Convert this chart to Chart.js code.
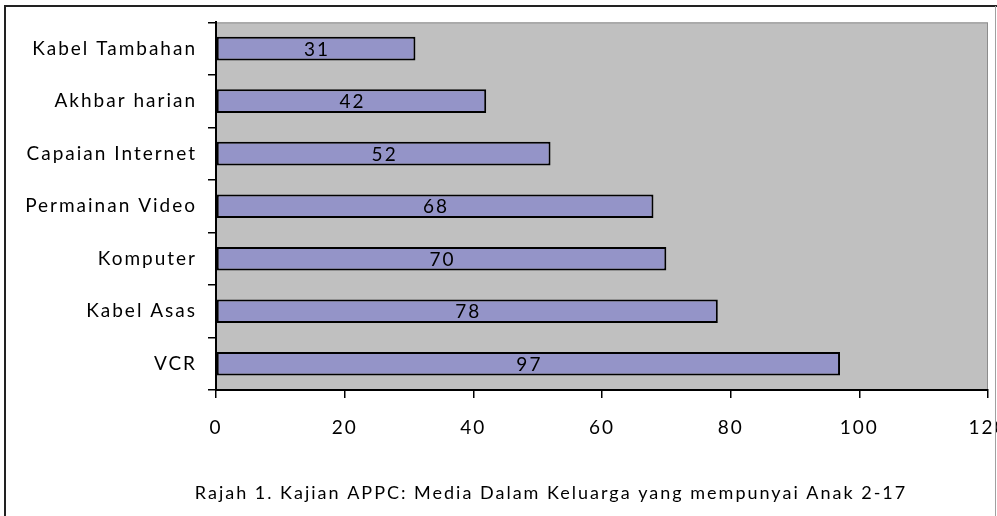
<!DOCTYPE html>
<html>
<head>
<meta charset="utf-8">
<script src="https://cdn.jsdelivr.net/npm/chart.js@4.4.1/dist/chart.umd.min.js"></script>
<style>
  html, body { margin: 0; padding: 0; background: #fff; overflow: hidden; }
  #wrap { width: 997px; height: 516px; }
</style>
</head>
<body>
<div id="wrap"><canvas id="graph" width="997" height="516"></canvas></div>
<script>
// data
var categories = ['Kabel Tambahan', 'Akhbar harian', 'Capaian Internet', 'Permainan Video', 'Komputer', 'Kabel Asas', 'VCR'];
var values = [31, 42, 52, 68, 70, 78, 97];
var xMin = 0, xMax = 120, xStep = 20;
var caption = 'Rajah 1. Kajian APPC: Media Dalam Keluarga yang mempunyai Anak 2-17';

var FONT = 'Lato';
var SPACING = '2px';

// wide text like the original picture
var spacing = {
    id: 'spacing',
    beforeLayout: function (chart) { chart.ctx.letterSpacing = SPACING; },
    beforeDraw: function (chart) { chart.ctx.letterSpacing = SPACING; }
};

var plotBack = {
    id: 'plotBack',
    beforeDraw: function (chart) {
        var a = chart.chartArea, c = chart.ctx;
        c.save();
        c.fillStyle = '#c0c0c0';
        c.fillRect(a.left, a.top, a.width, a.height);
        c.strokeStyle = '#8c8c8c';
        c.lineWidth = 1;
        c.strokeRect(a.left + 0.5, a.top + 0.5, a.width - 1, a.height);
        c.restore();
    },
    afterDraw: function (chart) {
        var c = chart.ctx;
        c.save();
        // outer frame
        c.strokeStyle = '#222';
        c.lineWidth = 2;
        c.beginPath();
        c.moveTo(5, chart.height);
        c.lineTo(5, 6);
        c.lineTo(chart.width, 6);
        c.stroke();
        c.strokeStyle = '#a0a0a0';
        c.lineWidth = 1;
        c.beginPath();
        c.moveTo(995.5, 6);
        c.lineTo(995.5, chart.height);
        c.stroke();
        // caption
        c.letterSpacing = SPACING;
        c.fillStyle = '#000';
        c.font = '18px ' + FONT;
        c.textAlign = 'center';
        c.textBaseline = 'middle';
        c.fillText(caption, 551, chart.height - 23);
        c.restore();
    }
};

var valueLabels = {
    id: 'valueLabels',
    afterDatasetsDraw: function (chart) {
        var c = chart.ctx;
        var meta = chart.getDatasetMeta(0);
        c.save();
        c.letterSpacing = SPACING;
        c.fillStyle = '#000';
        c.font = '19px ' + FONT;
        c.textAlign = 'center';
        c.textBaseline = 'middle';
        meta.data.forEach(function (bar, i) {
            c.fillText(String(values[i]), (bar.x + bar.base) / 2 + 1, bar.y + 1);
        });
        c.restore();
    }
};

var ctx = document.getElementById('graph');
var graph = new Chart(ctx, {
    type: 'bar',
    data: {
        labels: categories,
        datasets: [{
            data: values,
            backgroundColor: '#9494c8',
            borderColor: '#000',
            borderWidth: 2,
            borderSkipped: false,
            categoryPercentage: 1,
            barPercentage: 0.45
        }]
    },
    options: {
        indexAxis: 'y',
        responsive: false,
        animation: false,
        layout: { padding: { left: 6, top: 17, right: 9, bottom: 66 } },
        plugins: {
            legend: { display: false },
            tooltip: { enabled: false }
        },
        scales: {
            x: {
                min: xMin,
                max: xMax,
                ticks: { stepSize: xStep, color: '#000', padding: 18, font: { family: FONT, size: 19 } },
                grid: { drawOnChartArea: false, tickLength: 8, color: '#000', lineWidth: 1.5 },
                border: { color: '#000', width: 2 },
                afterFit: function (s) { s.height = 60; s.paddingRight = 0; s.paddingLeft = 0; }
            },
            y: {
                ticks: { color: '#000', padding: 11, font: { family: FONT, size: 19 } },
                grid: { offset: true, drawOnChartArea: false, tickLength: 8, color: '#000', lineWidth: 1.5 },
                border: { color: '#000', width: 2 },
                afterFit: function (s) { s.width = 210; }
            }
        }
    },
    plugins: [spacing, plotBack, valueLabels]
});
</script>
</body>
</html>
